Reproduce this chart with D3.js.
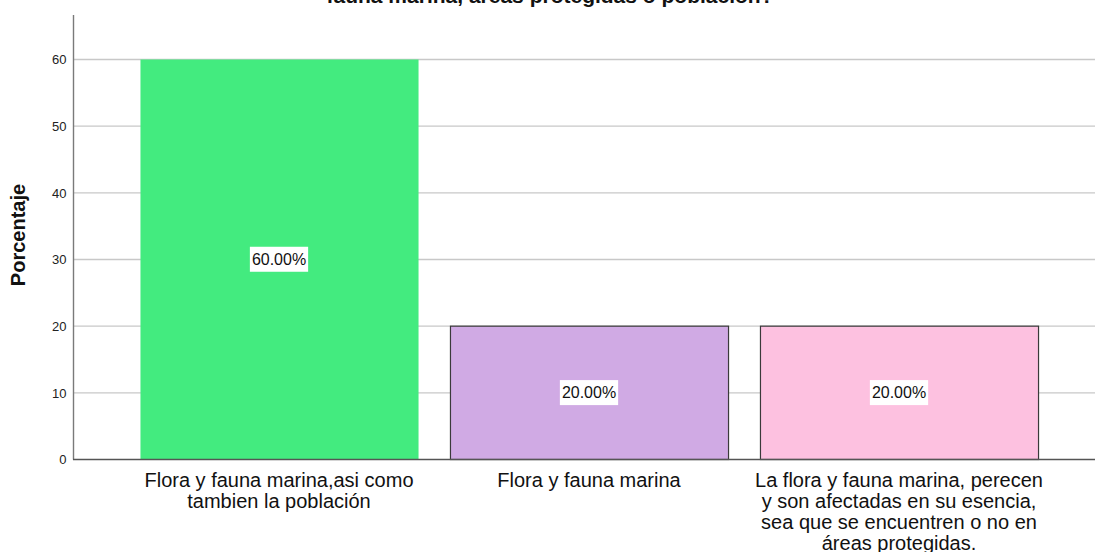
<!DOCTYPE html>
<html>
<head>
<meta charset="utf-8">
<script src="https://cdn.jsdelivr.net/npm/d3@7"></script>
<style>
  body { margin: 0; background: #fff; }
  text { font-family: "Liberation Sans", Arial, sans-serif; }
</style>
</head>
<body>
<div id="chart"></div>
<script>
    // data
    var categories = [
        ["Flora y fauna marina,asi como", "tambien la población"],
        ["Flora y fauna marina"],
        ["La flora y fauna marina, perecen", "y son afectadas en su esencia,", "sea que se encuentren o no en", "áreas protegidas."]
    ];
    var values = [60, 20, 20];
    var valueLabels = ["60.00%", "20.00%", "20.00%"];
    var barColors = ["#43eb7f", "#d0aae4", "#fdc1e0"];
    var barStrokes = ["none", "#3a3a3a", "#3a3a3a"];
    var yTicks = [0, 10, 20, 30, 40, 50, 60];
    var titleLine = "fauna marina, áreas protegidas o población?";

    var width = 1095,
        height = 552,
        axisX = 73,     // y axis position
        plotTop = 15,
        plotBottom = 459;   // zero line

    var svg = d3.select("#chart").append("svg")
        .attr("width", width)
        .attr("height", height);

    var x = d3.scaleBand()
        .domain(d3.range(values.length))
        .range([124, 1054])
        .paddingInner(0.103)
        .paddingOuter(0.0515);

    var y = d3.scaleLinear()
        .domain([0, 66.6])
        .range([plotBottom, plotTop]);

    // grid lines
    svg.append("g").selectAll("line.grid")
        .data(yTicks.filter(function (d) { return d > 0; }))
        .enter().append("line")
        .attr("class", "grid")
        .attr("x1", axisX)
        .attr("x2", width)
        .attr("y1", function (d) { return y(d) + 0.5; })
        .attr("y2", function (d) { return y(d) + 0.5; })
        .style("stroke", "#c8c8c8")
        .style("stroke-width", 1.3);

    // bars
    svg.append("g").selectAll("rect.bar")
        .data(values)
        .enter().append("rect")
        .attr("class", "bar")
        .attr("x", function (d, i) { return x(i) + 0.5; })
        .attr("y", function (d) { return y(d) + 0.5; })
        .attr("width", x.bandwidth())
        .attr("height", function (d) { return plotBottom - y(d); })
        .style("fill", function (d, i) { return barColors[i]; })
        .style("stroke", function (d, i) { return barStrokes[i]; })
        .style("stroke-width", 1.2);

    // y axis
    var yAxis = d3.axisLeft(y)
        .tickValues(yTicks)
        .tickSize(0)
        .tickPadding(7);

    var ya = svg.append("g")
        .attr("transform", "translate(" + (axisX + 0.5) + ",0.5)")
        .call(yAxis);
    ya.select(".domain").remove();
    ya.selectAll("text")
        .style("font-family", "'Liberation Sans', Arial, sans-serif")
        .style("font-size", "13px")
        .style("fill", "#222");

    svg.append("line")
        .attr("x1", axisX + 0.5).attr("x2", axisX + 0.5)
        .attr("y1", plotTop).attr("y2", plotBottom + 0.5)
        .style("stroke", "#7a7a7a")
        .style("stroke-width", 1.4);

    svg.append("line")
        .attr("x1", axisX).attr("x2", width)
        .attr("y1", plotBottom + 0.5).attr("y2", plotBottom + 0.5)
        .style("stroke", "#555")
        .style("stroke-width", 1.4);

    // category labels
    var cat = svg.append("g").selectAll("text.cat")
        .data(categories)
        .enter().append("text")
        .attr("class", "cat")
        .attr("text-anchor", "middle")
        .attr("transform", function (d, i) {
            return "translate(" + (x(i) + x.bandwidth() / 2) + "," + (plotBottom + 28) + ")";
        })
        .style("font-size", "20px")
        .style("fill", "#111");
    cat.selectAll("tspan")
        .data(function (d) { return d; })
        .enter().append("tspan")
        .attr("x", 0)
        .attr("y", function (d, j) { return j * 21; })
        .text(function (d) { return d; });

    // value labels in white boxes
    var vl = svg.append("g").selectAll("g.vlabel")
        .data(values)
        .enter().append("g")
        .attr("class", "vlabel")
        .attr("transform", function (d, i) {
            return "translate(" + (x(i) + x.bandwidth() / 2) + "," + ((y(d) + plotBottom) / 2) + ")";
        });
    vl.append("rect");
    vl.append("text")
        .attr("text-anchor", "middle")
        .attr("dy", "0.36em")
        .style("font-size", "16px")
        .style("fill", "#111")
        .text(function (d, i) { return valueLabels[i]; });
    vl.each(function () {
        var g = d3.select(this),
            b = g.select("text").node().getBBox();
        g.select("rect")
            .attr("x", b.x - 2)
            .attr("y", b.y - 4)
            .attr("width", b.width + 4)
            .attr("height", b.height + 8)
            .style("fill", "#fff");
    });

    // y axis title
    svg.append("text")
        .attr("transform", "translate(25," + 235 + ") rotate(-90)")
        .attr("text-anchor", "middle")
        .style("font-size", "20px")
        .style("font-weight", "bold")
        .style("fill", "#111")
        .text("Porcentaje");

    // chart title, only the second line shows in the frame
    svg.append("text")
        .attr("x", 550)
        .attr("y", 3)
        .attr("text-anchor", "middle")
        .style("font-size", "21px")
        .style("font-weight", "bold")
        .style("fill", "#111")
        .text(titleLine);
</script>
</body>
</html>
